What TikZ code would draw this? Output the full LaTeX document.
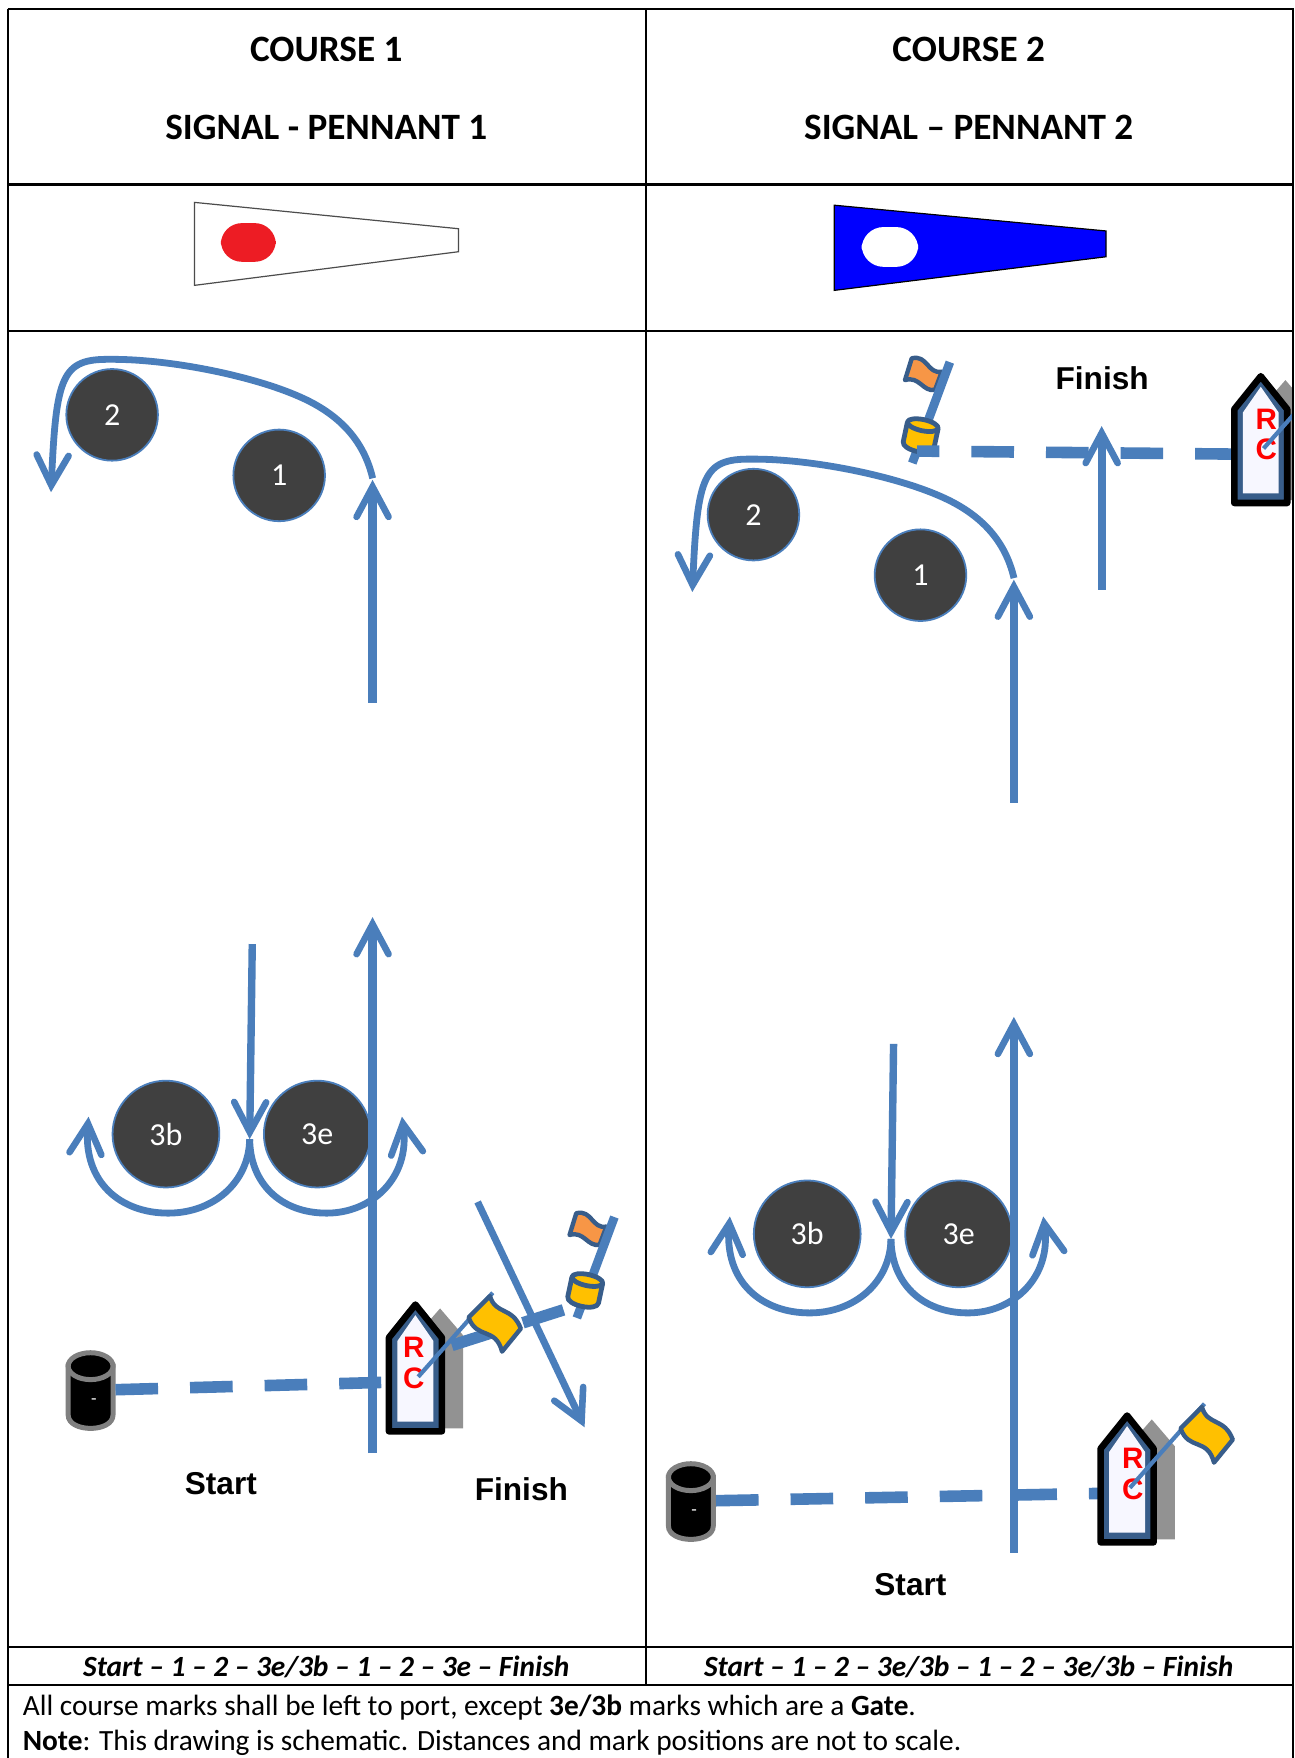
\documentclass[tikz,border=0pt]{standalone}
\usepackage{fontspec}
\setmainfont{Carlito}
\newfontfamily\arialf{Liberation Sans}
\usetikzlibrary{arrows.meta}
\definecolor{route}{HTML}{4A7EBB}
\definecolor{rim}{HTML}{385D8A}
\definecolor{markfill}{HTML}{404040}
\definecolor{flagyellow}{HTML}{FFC000}
\definecolor{flagorange}{HTML}{F79646}
\definecolor{shadowgrey}{HTML}{929292}
\definecolor{signalred}{HTML}{ED1C24}
\definecolor{signalblue}{HTML}{0000FF}
\tikzset{
  x=0.5606pt,y=-0.5606pt,
  rule/.style={line width=1.15pt,black},
  head/.style={font=\fontsize{18.6}{20}\selectfont\bfseries,inner sep=0pt},
  rowtext/.style={font=\fontsize{14.67}{16}\selectfont\bfseries\itshape,inner sep=0pt},
  note/.style={font=\fontsize{14.67}{16}\selectfont,inner sep=0pt,anchor=base west},
  bigmark/.style={circle,fill=markfill,draw=route,line width=0.9pt,minimum size=53.4pt,inner sep=0pt,text=white,font=\fontsize{16}{18}\selectfont},
  smallmark/.style={bigmark,minimum size=45.8pt},
  labeltext/.style={font=\arialf\fontsize{15.8}{18}\selectfont\bfseries,inner sep=0pt},
  rc/.style={font=\arialf\fontsize{14.8}{16}\selectfont\bfseries,text=red,inner sep=0pt},
  barb/.style={-{Straight Barb[length=15pt,width=16pt,line width=3.3pt,line cap=round]}},
  route line/.style={route,line width=4.1pt,barb},
  round line/.style={route,line width=3.4pt},
  dashline/.style={route,line width=5.8pt,dash pattern=on 21.3pt off 16pt},
  flagshape/.style={draw=rim,line width=2.2pt,line join=round},
}
% boat: #1 prefix, #2 x, #3 y of top-left corner, #4 offset of the letters from the boat's left edge
\newcommand{\boatat}[4]{%
  \begin{scope}[shift={(#2,#3)}]
    \fill[shadowgrey] (27,30) -- (48,6) -- (68.6,30) -- (68.6,113) -- (27,113) -- cycle;
    \draw[black,fill=rim,line width=3.3pt,line join=round] (2.4,32) -- (26,2.6) -- (49.6,32) -- (49.6,115.6) -- (2.4,115.6) -- cycle;
    \fill[white!97!blue] (10,35) -- (26,12) -- (42,35) -- (42,107) -- (10,107) -- cycle;
    \node[rc] (#1r) at (#4,41) {R};
    \node[rc] (#1c) at (#4,68) {C};
    \coordinate (#1base) at (28.5,67);
    \coordinate (#1top) at (95,-8);
  \end{scope}}
\newcommand{\boatflag}[3]{%
  \begin{scope}[shift={(#2,#3)}]
    \draw[route,line width=2.1pt] (#1base) -- (#1top);
    \draw[flagshape,fill=flagyellow] (73,14) -- (92,-5) .. controls (97,12) and (112,4) .. (119.5,24) -- (102.8,44.5) .. controls (97,22) and (80,34) .. (73,14) -- cycle;
  \end{scope}}
\newcommand{\finishmark}[3]{%
  \begin{scope}[shift={(#2,#3)}]
    \draw[flagshape,fill=flagorange] (-14,-49) -- (-8,-68.4) .. controls (6,-72) and (6,-54) .. (18.8,-56.5) -- (12.8,-40.3) .. controls (2,-38) and (-1,-53) .. (-14,-49) -- cycle;
    \coordinate (#1a) at (26,-65);
    \coordinate (#1b) at (-7.5,25);
    \draw[route,line width=4.4pt] (#1a) -- (#1b);
    \begin{scope}[rotate=-12]
      \draw[flagshape,fill=flagyellow,line width=2.4pt] (-14,-9) -- (-14,9) .. controls (-14,17) and (14,17) .. (14,9) -- (14,-9);
      \draw[flagshape,fill=flagyellow,line width=2.4pt] (0,-9) ellipse [x radius=14,y radius=5];
    \end{scope}
  \end{scope}}
\newcommand{\blackbuoy}[3]{%
  \begin{scope}[shift={(#2,#3)}]
    \draw[draw=gray,fill=black,line width=2.5pt] (-20,-21.5) -- (-20,22) .. controls (-20,38) and (20,38) .. (20,22) -- (20,-21.5) -- cycle;
    \draw[draw=gray,fill=black,line width=2.5pt] (0,-21.5) ellipse [x radius=20,y radius=12];
    \node[inner sep=0pt,text=white,font=\fontsize{9}{10}\selectfont] (#1dot) at (3,10) {-};
  \end{scope}}
% marks and route, given in Course 1 positions, shifted as a whole
\newcommand{\coursearrows}[3]{%
  \begin{scope}[shift={(#2,#3)}]
    \node[smallmark] (#1two) at (100,370) {2};
    \node[smallmark] (#1one) at (249,424) {1};
    \node[bigmark] (#1tb) at (148,1011.5) {3b};
    \node[bigmark] (#1te) at (283,1011.5) {3e};
    \coordinate (#1low) at (332.3,1296);
    \coordinate (#1mid) at (332.3,818);
    \coordinate (#1up) at (332.3,627);
    \coordinate (#1upend) at (332.3,428);
    \coordinate (#1down) at (225,842);
    \coordinate (#1gate) at (222.7,1016);
    \coordinate (#1turn) at (332.4,426.6);
    \coordinate (#1turnend) at (45.5,439);
    \coordinate (#1ltip) at (79,996);
    \coordinate (#1rtip) at (358.5,996);
    \draw[route line] (#1low) -- (#1mid);
    \draw[route line] (#1up) -- (#1upend);
    \draw[route,line width=3.7pt,barb] (#1down) -- (#1gate);
    \draw[round line,barb] (#1turn) .. controls (325,395) and (305,370.5) .. (267.6,354) .. controls (225,335) and (150,320) .. (98,320.5) .. controls (55,320) and (50,335) .. (#1turnend);
    \draw[round line,barb] (#1gate) .. controls (222,1055) and (190,1082) .. (150,1082) .. controls (108,1082) and (74,1055) .. (#1ltip);
    \draw[round line,barb] (#1gate) .. controls (223,1055) and (250,1082) .. (291.4,1082) .. controls (332,1082) and (366,1050) .. (#1rtip);
  \end{scope}}
\begin{document}
\begin{tikzpicture}
\useasboundingbox (0,0) rectangle (1155,1568);
\fill[white] (0,0) rectangle (1155,1568);

% header text
\node[head] (h1a) at (291,44) {COURSE 1};
\node[head] (h1b) at (291,114) {SIGNAL - PENNANT 1};
\node[head] (h2a) at (864,44) {COURSE 2};
\node[head] (h2b) at (864,114) {SIGNAL – PENNANT 2};

% pennants
\draw[black!70,fill=white,line width=0.6pt] (173.5,180.5) -- (409,204) -- (409,224.5) -- (173.5,254.5) -- cycle;
\fill[signalred,rounded corners=10.5pt] (197,199) rectangle (246,233.5);
\draw[black,fill=signalblue,line width=0.6pt] (744,183) -- (986.5,206) -- (986.5,229) -- (744,259) -- cycle;
\fill[white,rounded corners=11pt] (768.5,202.5) rectangle (819,238);

% Course 1
\coursearrows{a}{0}{0}
\blackbuoy{ab}{80.8}{1240}
\boatat{as}{344.5}{1161}{24.5}
\coordinate (afin1) at (403,1200);
\coordinate (afin2) at (503.5,1168);
\draw[dashline] (afin1) -- (afin2);
\boatflag{as}{345}{1161}
\finishmark{af}{522}{1150.5}
\coordinate (astart1) at (103,1239.5);
\coordinate (astart2) at (340,1233);
\draw[dashline] (astart1) -- (astart2);
\coordinate (adiag1) at (426,1072);
\coordinate (adiag2) at (521.4,1273);
\draw[route,line width=3.5pt,barb] (adiag1) -- (adiag2);
\node[labeltext] (astart) at (197,1323) {Start};
\node[labeltext] (afinish) at (465,1328) {Finish};

% Course 2
\coursearrows{b}{572}{89}
\blackbuoy{bb}{616.2}{1339}
\coordinate (bstart1) at (638.6,1338.5);
\coordinate (bstart2) at (980,1332);
\draw[dashline] (bstart1) -- (bstart2);
\boatat{bs}{979.3}{1260}{31}
\boatflag{bs}{980}{1260}
\node[labeltext] (bstart) at (812,1413) {Start};

\finishmark{bf}{821.2}{388}
\coordinate (bfin1) at (1099,405);
\coordinate (bfin2) at (818,402.3);
\draw[dashline,dash phase=2.8pt] (bfin1) -- (bfin2);
\coordinate (barr1) at (982.6,526);
\coordinate (barr2) at (982.6,380);
\draw[route line] (barr1) -- (barr2);
\node[labeltext] (bfinish) at (983,337) {Finish};
\begin{scope}
  \clip (0,0) rectangle (1152.5,1568);
  \boatat{bt}{1098.5}{333}{31}
  \draw[route,line width=2.1pt] (btbase) -- (bttop);
\end{scope}

% table rules
\draw[rule] (7.4,8) -- (7.4,1568);
\draw[rule] (1153.5,8) -- (1153.5,1568);
\draw[rule,line width=0.9pt] (576.2,8) -- (576.2,1503);
\draw[rule] (6.8,8) -- (1154,8);
\draw[rule] (6.8,164.5) -- (1154,164.5);
\draw[rule] (6.8,295.2) -- (1154,295.2);
\draw[rule] (6.8,1468.8) -- (1154,1468.8);
\draw[rule] (6.8,1503) -- (1154,1503);

% bottom rows
\node[rowtext] (r1) at (291,1487) {Start – 1 – 2 – 3e/3b – 1 – 2 – 3e – Finish};
\node[rowtext] (r2) at (864,1487) {Start – 1 – 2 – 3e/3b – 1 – 2 – 3e/3b – Finish};
\node[note] (n1) at (20,1530) {All course marks shall be left to port, except \textbf{3e/3b} marks which are a \textbf{Gate}.};
\node[note] (n2) at (20,1561) {\textbf{Note}: This drawing is schematic. Distances and mark positions are not to scale.};
\end{tikzpicture}
\end{document}
